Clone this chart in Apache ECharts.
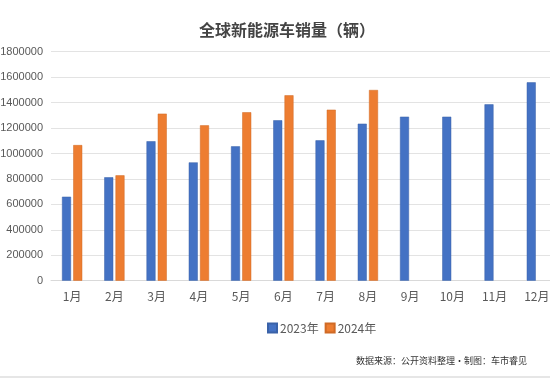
<!DOCTYPE html>
<html><head><meta charset="utf-8">
<script src="https://cdn.jsdelivr.net/npm/echarts@6/dist/echarts.min.js"></script>
<style>html,body{margin:0;padding:0;background:#fff}#c{width:550px;height:378px}</style>
</head><body><div id="c"></div>
<script>
var categories = ['1月','2月','3月','4月','5月','6月','7月','8月','9月','10月','11月','12月'];
var sales2023 = [660000, 813000, 1096000, 930000, 1056000, 1261000, 1103000, 1234000, 1289000, 1289000, 1386000, 1559000];
var sales2024 = [1066000, 828000, 1313000, 1221000, 1324000, 1457000, 1344000, 1499000, null, null, null, null];
var seriesNames = ['2023年','2024年'];
var titleText = '全球新能源车销量（辆）';
var sourceText = '数据来源：公开资料整理·制图：车市睿见';

var chart = echarts.init(document.getElementById('c'));
chart.setOption({
  animation: false,
  title: {text: titleText, left: 282, top: 17, textAlign: 'center',
    textStyle: {fontFamily: 'Noto Sans CJK SC', fontSize: 16, fontWeight: 'bold', color: '#444'}},
  legend: {data: seriesNames, top: 317, left: 262, itemWidth: 9, itemHeight: 9, itemGap: 6,
    icon: 'rect', textStyle: {fontFamily: 'Noto Sans CJK SC', fontSize: 12, color: '#595959', padding: [0,0,0,-2]}},
  grid: {left: 51, right: -8, top: 51.7, bottom: 97.3, containLabel: false, outerBoundsMode: 'none'},
  xAxis: {type: 'category', data: categories,
    axisLine: {lineStyle: {color: '#d9d9d9'}}, axisTick: {show: false},
    axisLabel: {fontFamily: 'Noto Sans CJK SC', fontSize: 12, color: '#595959', margin: 10}},
  yAxis: {type: 'value', min: 0, max: 1800000, interval: 200000,
    axisLine: {show: false}, axisTick: {show: false},
    splitLine: {lineStyle: {color: '#e3e3e3'}},
    axisLabel: {fontFamily: 'Liberation Sans', fontSize: 11, color: '#595959', margin: 8,
      formatter: function (v) { return String(v); }}},
  series: [
    {name: seriesNames[0], type: 'bar', data: sales2023, barWidth: 9, barGap: '25%',
      itemStyle: {color: '#4472C4', borderColor: '#3a62a8', borderWidth: 0.5}},
    {name: seriesNames[1], type: 'bar', data: sales2024, barWidth: 9,
      itemStyle: {color: '#ED7D31', borderColor: '#d06a25', borderWidth: 0.5}}
  ],
  graphic: [
    {type: 'text', right: 23, top: 356, style: {text: sourceText, fontFamily: 'Noto Sans CJK SC', fontSize: 9, fill: '#333'}},
    {type: 'rect', shape: {x: 0, y: 376, width: 550, height: 2}, style: {fill: '#e6e6e6'}}
  ]
});
</script></body></html>
